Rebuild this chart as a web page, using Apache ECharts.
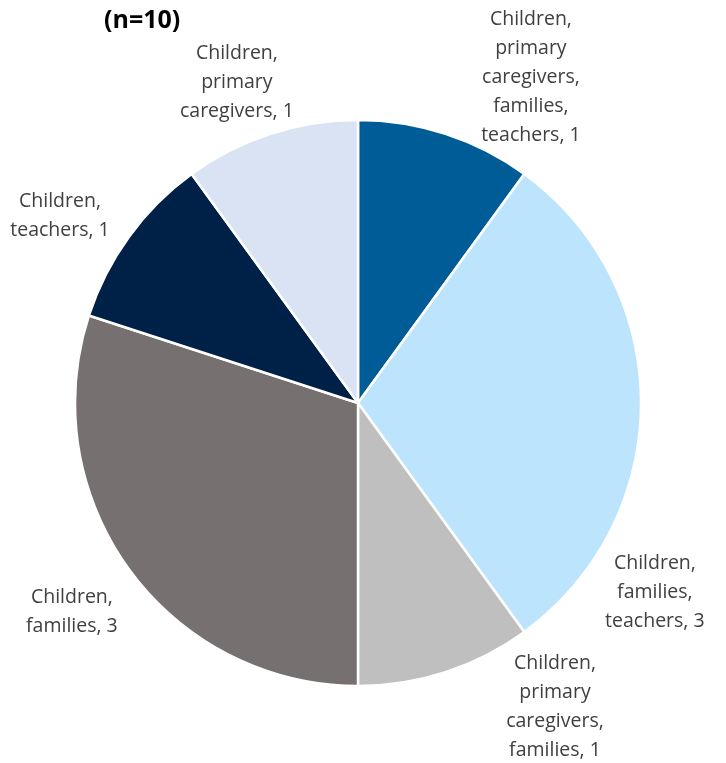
<!DOCTYPE html>
<html>
<head>
<meta charset="utf-8">
<script src="https://cdn.jsdelivr.net/npm/echarts@6/dist/echarts.min.js"></script>
<style>
  html, body { margin: 0; padding: 0; background: #fff; }
  #chart { width: 726px; height: 763px; }
</style>
</head>
<body>
<div id="chart"></div>
<script>
// Groups involved, counted per program (n = 10)
const categories = [
  'Children,\nprimary\ncaregivers,\nfamilies,\nteachers',
  'Children,\nfamilies,\nteachers',
  'Children,\nprimary\ncaregivers,\nfamilies',
  'Children,\nfamilies',
  'Children,\nteachers',
  'Children,\nprimary\ncaregivers'
];
const counts = [1, 3, 1, 3, 1, 1];
const sliceColors = ['#005c97', '#bde4fd', '#bfbfbf', '#767170', '#002147', '#dae3f3'];
const titleText = '(n=10)';

// Pie geometry in pixels
const cx = 358, cy = 403, radius = 283;
// Label box centres, relative to the pie centre, in units of the radius
const labelSpots = [
  [0.611, -1.152],
  [1.049, 0.668],
  [0.696, 1.074],
  [-1.011, 0.739],
  [-1.053, -0.66],
  [-0.428, -1.131]
];

const chart = echarts.init(document.getElementById('chart'), null, { renderer: 'canvas' });

chart.setOption({
  backgroundColor: '#ffffff',
  animation: false,
  title: {
    text: titleText,
    left: 99,
    top: 3,
    textStyle: {
      fontFamily: 'Open Sans, Lato, sans-serif',
      fontWeight: 'bold',
      fontSize: 25,
      color: '#000000'
    }
  },
  series: [{
    type: 'pie',
    center: [cx, cy],
    radius: radius,
    startAngle: 90,
    clockwise: true,
    avoidLabelOverlap: false,
    itemStyle: { borderColor: '#ffffff', borderWidth: 2.5 },
    label: {
      show: true,
      position: 'outside',
      formatter: p => p.name + ', ' + p.value,
      fontFamily: 'Open Sans, Lato, sans-serif',
      fontSize: 19.5,
      lineHeight: 29,
      color: '#404040',
      align: 'center'
    },
    labelLine: { show: false },
    labelLayout: params => {
      const s = labelSpots[params.dataIndex];
      return {
        x: cx + s[0] * radius,
        y: cy + s[1] * radius,
        align: 'center',
        verticalAlign: 'middle'
      };
    },
    emphasis: { disabled: true },
    data: categories.map((name, i) => ({
      name: name,
      value: counts[i],
      itemStyle: { color: sliceColors[i] }
    }))
  }]
});
</script>
</body>
</html>
